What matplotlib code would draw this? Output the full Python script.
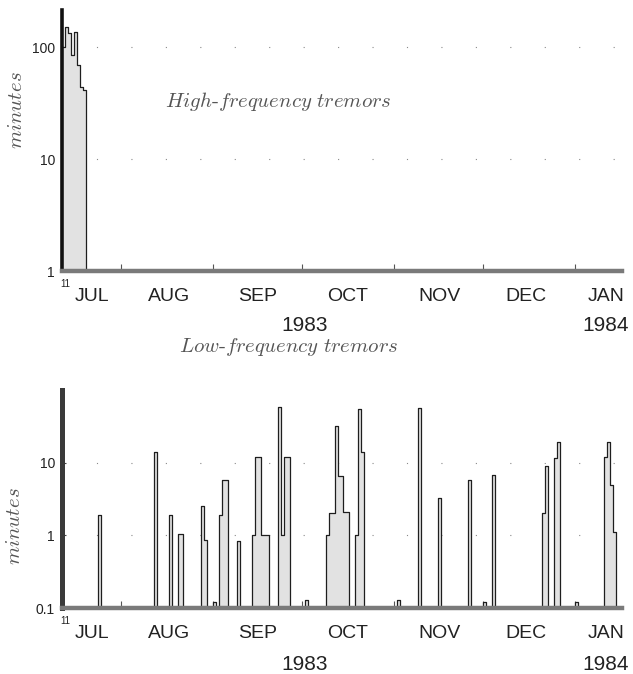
import matplotlib
matplotlib.use('Agg')
import matplotlib.pyplot as plt
import matplotlib.dates as mdates
import matplotlib.transforms as mtrans
from matplotlib.ticker import NullLocator, FixedLocator
import numpy as np

plt.rcParams['mathtext.fontset'] = 'cm'
plt.rcParams['font.family'] = ['Liberation Sans', 'DejaVu Sans']

# ---------------- data ----------------
hf_dates = ['1983-07-12', '1983-07-13', '1983-07-14', '1983-07-15',
            '1983-07-16', '1983-07-17', '1983-07-18', '1983-07-19']
hf_minutes = [100, 150, 133, 85, 137, 69, 44, 41]

lf_dates = ['1983-07-24', '1983-08-12', '1983-08-17', '1983-08-20', '1983-08-21',
            '1983-08-28', '1983-08-29', '1983-09-01', '1983-09-03', '1983-09-04',
            '1983-09-05', '1983-09-09', '1983-09-14', '1983-09-15', '1983-09-16',
            '1983-09-17', '1983-09-18', '1983-09-19', '1983-09-23', '1983-09-24',
            '1983-09-25', '1983-09-26', '1983-10-02', '1983-10-09', '1983-10-10',
            '1983-10-11', '1983-10-12', '1983-10-13', '1983-10-14', '1983-10-15',
            '1983-10-16', '1983-10-19', '1983-10-20', '1983-10-21', '1983-11-02',
            '1983-11-09', '1983-11-16', '1983-11-26', '1983-12-01', '1983-12-04',
            '1983-12-21', '1983-12-22', '1983-12-25', '1983-12-26', '1984-01-01',
            '1984-01-11', '1984-01-12', '1984-01-13', '1984-01-14']
lf_minutes = [1.9, 14, 1.9, 1.05, 1.05,
              2.5, 0.87, 0.12, 1.9, 5.8,
              5.8, 0.84, 1.0, 12, 12,
              1.0, 1.0, 1.0, 58, 1.0,
              12, 12, 0.13, 1.0, 2.0,
              2.0, 32, 6.5, 6.5, 2.1,
              2.1, 1.0, 54, 14, 0.13,
              56, 3.3, 5.8, 0.12, 6.7,
              2.0, 9.1, 11.6, 19.3, 0.12,
              12, 19.3, 5.0, 1.1]

month_labels = ['JUL', 'AUG', 'SEP', 'OCT', 'NOV', 'DEC', 'JAN']
month_label_pos = ['1983-07-22', '1983-08-17', '1983-09-16', '1983-10-16T12',
                   '1983-11-16T12', '1983-12-15T12', '1984-01-11T12']
month_starts = ['1983-08-01', '1983-09-01', '1983-10-01', '1983-11-01',
                '1983-12-01', '1984-01-01']
year_labels = ['1983', '1984']
year_pos = ['1983-10-02', '1984-01-11T12']
x_start, x_end = '1983-07-12', '1984-01-17'

hf_ticks = [1, 10, 100]
hf_ticklabels = ['1', '10', '100']
lf_ticks = [0.1, 1, 10]
lf_ticklabels = ['0.1', '1', '10']


def dn(s):
    return mdates.date2num(np.array(s, dtype='datetime64[h]'))


W, H = 633, 674
fig = plt.figure(figsize=(W / 100, H / 100), dpi=100)


def make_axes(rect, dates, vals, base, top, ticks, ticklabels, spine_lw,
              spine_col, year_off, title, title_xy, ylab_xy):
    ax = fig.add_axes(rect)
    # daily series: days without tremor sit on the baseline
    days = np.arange(np.datetime64(x_start), np.datetime64(x_end) + 1,
                     dtype='datetime64[D]')
    series = np.full(len(days), float(base))
    ev = np.array(dates, dtype='datetime64[D]')
    idx = ((ev - days[0]) / np.timedelta64(1, 'D')).astype(int)
    series[idx] = np.array(vals, dtype=float)
    x = mdates.date2num(days)
    ax.fill_between(x, series, base, step='post', facecolor='#e2e2e2',
                    linewidth=0, zorder=2)
    ax.step(x, series, where='post', color='#1e1e1e', lw=0.9, zorder=3)

    ax.set_yscale('log')
    ax.set_ylim(base, top)
    ax.set_xlim(dn(x_start), dn(x_end))
    for sp in ['top', 'right']:
        ax.spines[sp].set_visible(False)
    ax.spines['left'].set_linewidth(spine_lw)
    ax.spines['left'].set_color(spine_col)
    ax.spines['bottom'].set_linewidth(3.2)
    ax.spines['bottom'].set_color('#7a7a7a')
    ax.spines['left'].set_zorder(5)
    ax.spines['bottom'].set_zorder(5)

    # gridlines (sparse dots)
    for t in ticks[1:]:
        ax.axhline(t, color='#8a8a8a', lw=0.8, ls=(0, (1, 30)), zorder=1)

    ax.yaxis.set_major_locator(FixedLocator(ticks))
    ax.yaxis.set_minor_locator(NullLocator())
    ax.set_yticklabels(ticklabels)
    ax.tick_params(axis='y', which='major', length=3, direction='in',
                   width=0.8, color='#444', pad=5, labelsize=10,
                   labelcolor='#222')

    ax.xaxis.set_major_locator(FixedLocator(dn(month_label_pos)))
    ax.set_xticklabels(month_labels)
    ax.xaxis.set_minor_locator(FixedLocator(dn(month_starts)))
    ax.tick_params(axis='x', which='major', length=0, pad=12, labelsize=14,
                   labelcolor='#222')
    ax.tick_params(axis='x', which='minor', length=5, direction='in',
                   width=0.8, color='#555')

    trans = mtrans.blended_transform_factory(ax.transData, ax.transAxes)
    for lab, pos in zip(year_labels, dn(year_pos)):
        ax.annotate(lab, xy=(pos, 0), xycoords=trans,
                    xytext=(0, -year_off), textcoords='offset pixels',
                    ha='center', va='center', fontsize=15, color='#222')
    ax.annotate('11', xy=(dn(x_start), 0), xycoords=trans,
                xytext=(3, -13), textcoords='offset pixels',
                ha='center', va='center', fontsize=7, color='#222')

    fig.text(title_xy[0] / W, 1 - title_xy[1] / H, title,
             ha='center', va='baseline', fontsize=15, color='#555555')
    fig.text(ylab_xy[0] / W, 1 - ylab_xy[1] / H, r'$minutes$',
             rotation=90, ha='center', va='center', fontsize=15,
             color='#555555')
    return ax


L, R = 62, 622
make_axes([L / W, 1 - 271 / H, (R - L) / W, 261 / H],
          hf_dates, hf_minutes, 1, 214, hf_ticks, hf_ticklabels,
          2.6, '#111111', 54,
          r'$High\text{-}frequency\ tremors$', (278, 107), (17, 110))
make_axes([L / W, 1 - 608 / H, (R - L) / W, 218 / H],
          lf_dates, lf_minutes, 0.1, 100, lf_ticks, lf_ticklabels,
          3.6, '#3a3a3a', 56,
          r'$Low\text{-}frequency\ tremors$', (289, 352), (15, 526))

fig.savefig('out.png', dpi=100)
